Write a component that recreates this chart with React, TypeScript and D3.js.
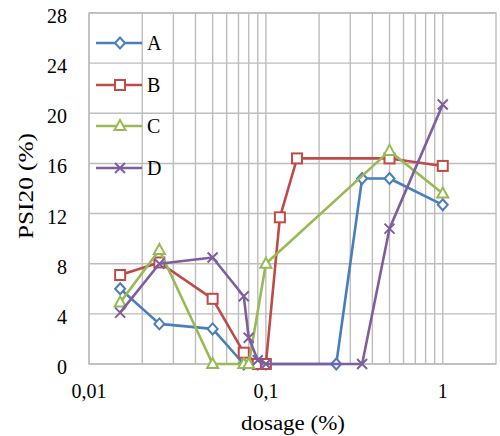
import React from "react";
import * as d3 from "d3";

const A_x = [0.015, 0.025, 0.05, 0.075, 0.09, 0.1, 0.25, 0.35, 0.5, 1];
const A_y = [6.0, 3.2, 2.8, 0, 0, 0, 0, 14.8, 14.8, 12.7];
const B_x = [0.015, 0.025, 0.05, 0.075, 0.09, 0.1, 0.12, 0.15, 0.5, 1];
const B_y = [7.1, 8.1, 5.2, 0.9, 0, 0, 11.7, 16.4, 16.4, 15.8];
const C_x = [0.015, 0.025, 0.05, 0.075, 0.08, 0.1, 0.5, 1];
const C_y = [4.9, 9.1, 0, 0, 0, 8.0, 17.0, 13.6];
const D_x = [0.015, 0.025, 0.05, 0.075, 0.08, 0.09, 0.1, 0.35, 0.5, 1];
const D_y = [4.1, 8.0, 8.5, 5.4, 2.1, 0.3, 0, 0, 10.8, 20.7];

const seriesNames = ["A", "B", "C", "D"];
const seriesColors = ["#4A7EBB", "#BE4B48", "#98B954", "#7D5FA0"];
const markerTypes = ["diamond", "square", "triangle", "x"];

const yTicks = [0, 4, 8, 12, 16, 20, 24, 28];
const xTickValues = [0.01, 0.1, 1];
const xTickLabels = ["0,01", "0,1", "1"];
const xMinor = [0.02, 0.03, 0.04, 0.05, 0.06, 0.07, 0.08, 0.09, 0.2, 0.3, 0.4, 0.5, 0.6, 0.7, 0.8, 0.9];

const W = 500;
const H = 436;
const left = 89;
const right = 496;
const top = 13;
const bottom = 364;

function Marker({ type, x, y, color }: { type: string; x: number; y: number; color: string }) {
  const sw = 2;
  if (type === "diamond") {
    const d = `M${x},${y - 5.5}L${x + 5},${y}L${x},${y + 5.5}L${x - 5},${y}Z`;
    return <path d={d} fill="#fff" stroke={color} strokeWidth={sw} />;
  }
  if (type === "square") {
    return <rect x={x - 5} y={y - 5} width={10} height={10} fill="#fff" stroke={color} strokeWidth={sw} />;
  }
  if (type === "triangle") {
    const d = `M${x},${y - 6}L${x + 5.5},${y + 4}L${x - 5.5},${y + 4}Z`;
    return <path d={d} fill="#fff" stroke={color} strokeWidth={sw} />;
  }
  const s = 5;
  return (
    <path
      d={`M${x - s},${y - s}L${x + s},${y + s}M${x - s},${y + s}L${x + s},${y - s}`}
      stroke={color}
      strokeWidth={sw}
      fill="none"
    />
  );
}

export default function App() {
  const x = d3.scaleLog().domain([0.01, 2]).range([left, right]);
  const y = d3.scaleLinear().domain([0, 28]).range([bottom, top]);
  const xs = [A_x, B_x, C_x, D_x];
  const ys = [A_y, B_y, C_y, D_y];
  const line = d3
    .line<[number, number]>()
    .x((d) => x(d[0]))
    .y((d) => y(d[1]));
  const grid = "#BDBDBD";
  const font = "'Liberation Serif', 'Times New Roman', serif";
  const legendY = [43, 85, 126, 168];

  return (
    <svg
      width={W}
      height={H}
      style={{ position: "absolute", left: 0, top: 0, background: "#fff" }}
      fontFamily={font}
    >
      <rect x={0} y={0} width={W} height={H} fill="#fff" />
      {yTicks.map((t) => (
        <line key={"gy" + t} x1={left} x2={right} y1={y(t)} y2={y(t)} stroke={grid} strokeWidth={1.4} />
      ))}
      {xMinor.concat(xTickValues).map((t) => (
        <line key={"gx" + t} x1={x(t)} x2={x(t)} y1={top} y2={bottom} stroke={grid} strokeWidth={1.4} />
      ))}
      <rect x={left} y={top} width={right - left} height={bottom - top} fill="none" stroke={grid} strokeWidth={1.4} />

      {yTicks.map((t) => (
        <text key={"ty" + t} x={67} y={y(t) + 10} fontSize={20} textAnchor="end" fill="#000">
          {t}
        </text>
      ))}
      {xTickValues.map((t, i) => (
        <text key={"tx" + t} x={x(t)} y={398} fontSize={20} textAnchor="middle" fill="#000">
          {xTickLabels[i]}
        </text>
      ))}
      <text x={293} y={430} fontSize={20} textAnchor="middle" fill="#000" textLength={104} lengthAdjust="spacingAndGlyphs">
        dosage (%)
      </text>
      <text
        transform={`translate(33,186) rotate(-90)`}
        fontSize={20}
        textAnchor="middle"
        fill="#000"
        textLength={106}
        lengthAdjust="spacingAndGlyphs"
      >
        PSI20 (%)
      </text>

      {seriesNames.map((name, i) => {
        const pts: [number, number][] = xs[i].map((v, j) => [v, ys[i][j]]);
        return (
          <g key={name}>
            <path d={line(pts) || ""} fill="none" stroke={seriesColors[i]} strokeWidth={2.6} strokeLinejoin="round" />
            {pts.map((p, j) => (
              <Marker key={j} type={markerTypes[i]} x={x(p[0])} y={y(p[1])} color={seriesColors[i]} />
            ))}
          </g>
        );
      })}

      {seriesNames.map((name, i) => (
        <g key={"lg" + name}>
          <line x1={96} x2={142} y1={legendY[i]} y2={legendY[i]} stroke={seriesColors[i]} strokeWidth={2.6} />
          <Marker type={markerTypes[i]} x={120} y={legendY[i]} color={seriesColors[i]} />
          <text x={147} y={legendY[i] + 7} fontSize={20} fill="#000">
            {name}
          </text>
        </g>
      ))}
    </svg>
  );
}
